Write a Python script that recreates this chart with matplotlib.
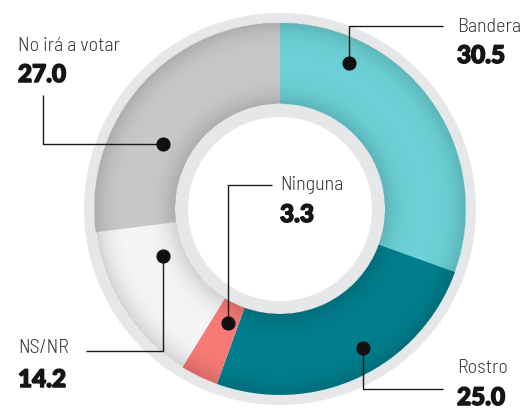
import numpy as np
import matplotlib
matplotlib.use("Agg")
import matplotlib.pyplot as plt
import matplotlib.patheffects as pe

# -----------------------------
# Data
# -----------------------------
labels = ["Bandera", "Rostro", "Ninguna", "NS/NR", "No irá a votar"]
values = [30.5, 25.0, 3.3, 14.2, 27.0]
colors = ["#6cd3d8", "#00808f", "#f97b77", "#f7f7f7", "#c9cacc"]

# -----------------------------
# Layout (pixel coords, y down)
# -----------------------------
W, H = 523, 411
cx, cy = 280, 209
r_outer_ring = 196
r_band_out = 186
r_band_in = 105
r_hole = 92

# label: (text x, name baseline, value baseline, leader path; last point = dot)
label_layout = {
    "No irá a votar": (18, 51, 82, [(43, 95), (43, 144), (163, 144)]),
    "Bandera": (457, 32, 63, [(443, 26), (349, 26), (349, 63)]),
    "Ninguna": (280, 190, 222, [(272, 185), (228, 185), (228, 323)]),
    "NS/NR": (18, 353, 387, [(86, 351), (163, 351), (163, 256)]),
    "Rostro": (457, 373, 405, [(443, 389), (363, 389), (363, 348)]),
}

label_font = ["Barlow Semi Condensed", "DejaVu Sans"]
num_font = ["Lato", "DejaVu Sans"]


def fy(y):
    return H - y


fig = plt.figure(figsize=(W / 100, H / 100), dpi=100)
ax = fig.add_axes([0, 0, 1, 1])

# outer and inner grey rings
ax.pie([1], radius=r_outer_ring, center=(cx, fy(cy)), colors=["#e6e7e8"],
       wedgeprops=dict(width=r_outer_ring - r_band_out + 1, linewidth=0), frame=True)
ax.pie([1], radius=r_band_in + 1, center=(cx, fy(cy)), colors=["#e6e7e8"],
       wedgeprops=dict(width=r_band_in + 1 - r_hole, linewidth=0), frame=True)

# main donut
ax.pie(values, radius=r_band_out, center=(cx, fy(cy)), colors=colors,
       startangle=90, counterclock=False,
       wedgeprops=dict(width=r_band_out - r_band_in, linewidth=0), frame=True)

# tube shading on the coloured band
x0, x1 = cx - r_band_out, cx + r_band_out
y0, y1 = fy(cy) - r_band_out, fy(cy) + r_band_out
gx, gy = np.meshgrid(np.linspace(x0, x1, 400), np.linspace(y1, y0, 400))
rr = np.hypot(gx - cx, gy - fy(cy))
mid = (r_band_out + r_band_in) / 2
half = (r_band_out - r_band_in) / 2
t = np.clip(np.abs(rr - mid) / half, 0, 1)
alpha = 0.01 + 0.14 * t ** 3
alpha[(rr > r_band_out) | (rr < r_band_in)] = 0
shade = np.zeros((400, 400, 4))
shade[..., 3] = alpha
ax.imshow(shade, extent=(x0, x1, y0, y1), interpolation="bilinear", zorder=3)

# leaders, dots and texts
for name, val in zip(labels, values):
    tx, ny, vy, path = label_layout[name]
    xs = [p[0] for p in path]
    ys = [fy(p[1]) for p in path]
    ax.plot(xs, ys, color="#1a1a1a", lw=1.0, zorder=5, solid_capstyle="butt")
    ax.plot(xs[-1], ys[-1], "o", color="#111111", ms=9.2, zorder=6)
    ax.text(tx, fy(ny), name, fontsize=14.5, family=label_font, color="#3a3a3a",
            ha="left", va="baseline", fontweight=300, zorder=7)
    ax.text(tx, fy(vy), f"{val:.1f}", fontsize=17.5, family=num_font, color="#151515",
            ha="left", va="baseline", fontweight=900, zorder=7,
            path_effects=[pe.withStroke(linewidth=1.1, foreground="#151515")])

ax.set_xlim(0, W)
ax.set_ylim(0, H)
ax.set_aspect("auto")
ax.axis("off")

fig.savefig("out.png", dpi=100, facecolor="white")
